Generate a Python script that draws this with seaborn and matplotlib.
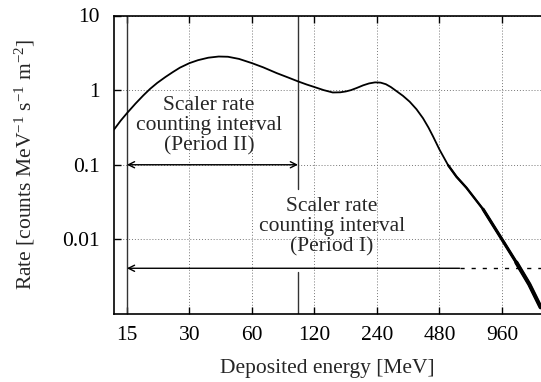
import matplotlib
matplotlib.use('Agg')
import matplotlib.pyplot as plt
import numpy as np
import pandas as pd
import seaborn as sns

# Spectrum (energy in MeV, rate in counts MeV^-1 s^-1 m^-2)
energy = [13.0, 14.0, 15.0, 16.5, 18.0, 19.4, 21.0, 23.0, 25.0, 27.0, 30.0,
          33.0, 37.0, 41.5, 46.0, 52.0, 60.0, 68.0, 79.0, 90.0, 100.0, 110.0,
          120.0, 133.0, 147.0, 160.0, 170.0, 180.0, 192.0, 206.0, 220.0,
          235.0, 250.0, 265.0, 280.0, 298.0, 320.0, 345.0, 372.0, 400.0,
          425.0, 447.0, 480.0, 528.0, 580.0, 647.0, 779.0, 960.0, 1126.0,
          1300.0, 1474.0]
rate = [0.296, 0.39, 0.49, 0.66, 0.85, 1.04, 1.25, 1.5, 1.75, 2.0, 2.3,
        2.52, 2.72, 2.82, 2.8, 2.62, 2.3, 2.02, 1.69, 1.47, 1.31, 1.19,
        1.1, 1.0, 0.93, 0.935, 0.96, 1.0, 1.07, 1.16, 1.23,
        1.27, 1.26, 1.2, 1.1, 0.97, 0.84, 0.70, 0.555, 0.42,
        0.315, 0.24, 0.16, 0.099, 0.069, 0.0493, 0.0253, 0.01, 0.0049,
        0.0025, 0.00123]
# the tail gets noisier (thicker) with energy
tail_steps = [(528.0, 1.7), (779.0, 2.3), (1126.0, 3.0)]

x_ticks = [15, 30, 60, 120, 240, 480, 960]
x_labels = ['15', '30', '60', '120', '240', '480', '960']
y_ticks = [10, 1, 0.1, 0.01]
y_labels = ['10', '1', '0.1', '0.01']
x_range = (13.0, 1480.0)
y_range = (0.001, 10.0)

# counting intervals
period2 = (15.0, 100.0)
period2_level = 0.1
period1_start = 15.0
period1_solid_end = 600.0
period1_level = 0.0041
cut_line_upper = (0.047, 10.0)
cut_line_lower = (0.001, 0.0036)
period2_text_pos = (37.3, 0.33)
period1_text_pos = (146.0, 0.0146)
label_text = 'Scaler rate\ncounting interval\n(Period {})'

df = pd.DataFrame({'energy': energy, 'rate': rate})

sns.set_theme(style='ticks')
plt.rcParams['font.family'] = ['Liberation Serif', 'DejaVu Serif']
plt.rcParams['mathtext.fontset'] = 'custom'
plt.rcParams['mathtext.rm'] = 'Liberation Serif'
plt.rcParams['mathtext.it'] = 'Liberation Serif:italic'
fs = 15.5

fig = plt.figure(figsize=(5.41, 3.82), dpi=100)
ax = fig.add_axes([114 / 541, 68 / 382, 427 / 541, 298.5 / 382])

sns.lineplot(data=df, x='energy', y='rate', ax=ax, color='black', lw=1.3,
             estimator=None, sort=False)
for start, width in tail_steps:
    tail = df[df['energy'] >= start]
    sns.lineplot(data=tail, x='energy', y='rate', ax=ax, color='black', lw=width,
                 estimator=None, sort=False)

ax.set_xscale('log')
ax.set_yscale('log')
ax.set_xlim(*x_range)
ax.set_ylim(*y_range)

# vertical markers
ax.axvline(period2[0], color='#333333', lw=1.0, zorder=1)
ax.plot([period2[1], period2[1]], cut_line_upper, color='#333333', lw=1.0, zorder=1)
ax.plot([period2[1], period2[1]], cut_line_lower, color='#333333', lw=1.0, zorder=1)

arrow_kw = dict(color='black', lw=1.0, shrinkA=0, shrinkB=0, mutation_scale=11)
ax.annotate('', xy=(period2[0], period2_level), xytext=(period2[1], period2_level),
            arrowprops=dict(arrowstyle='<->', **arrow_kw))
ax.annotate('', xy=(period1_start, period1_level),
            xytext=(period1_solid_end, period1_level),
            arrowprops=dict(arrowstyle='->', **arrow_kw))
ax.plot([period1_solid_end, x_range[1]], [period1_level, period1_level],
        color='black', lw=1.0, ls=(0, (3, 5)))

ax.text(*period2_text_pos, label_text.format('II'), ha='center', va='center',
        fontsize=fs, linespacing=1.07)
ax.text(*period1_text_pos, label_text.format('I'), ha='center', va='center',
        fontsize=fs, linespacing=1.07)

ax.set_xticks(x_ticks)
ax.set_xticklabels(x_labels)
ax.set_yticks(y_ticks)
ax.set_yticklabels(y_labels)
ax.minorticks_off()
ax.tick_params(direction='in', length=5, width=1, top=True, right=False,
               colors='black', labelsize=fs)
ax.tick_params(axis='x', pad=9)
ax.tick_params(axis='y', pad=10)
ax.grid(True, which='major', color='#777777', lw=0.7, ls=(0, (1, 2)))
for side in ['left', 'bottom', 'top']:
    ax.spines[side].set_color('black')
    ax.spines[side].set_linewidth(1.2)
ax.spines['right'].set_visible(False)

ax.set_xlabel('Deposited energy [MeV]', fontsize=fs, labelpad=10)
ax.set_ylabel('Rate [counts MeV$^{\\mathregular{-1}}$ s$^{\\mathregular{-1}}$ m$^{\\mathregular{-2}}$]',
              fontsize=fs)
ax.yaxis.set_label_coords(-0.18, 0.5)

fig.savefig('out.png', dpi=100)
